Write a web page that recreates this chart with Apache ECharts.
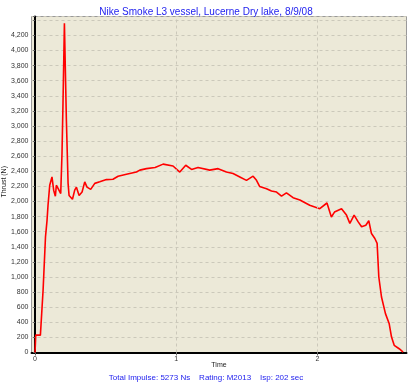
<!DOCTYPE html>
<html>
<head>
<meta charset="utf-8">
<script src="https://cdn.jsdelivr.net/npm/echarts@6/dist/echarts.min.js"></script>
<style>html,body{margin:0;padding:0;background:#fff}#c{width:412px;height:385px}</style>
</head>
<body>
<div id="c"></div>
<script>
var titleText = 'Nike Smoke L3 vessel, Lucerne Dry lake, 8/9/08';
var footerText = 'Total Impulse: 5273 Ns    Rating: M2013    Isp: 202 sec';
var xLabels = [0, 1, 2];
var timeS = [0, 0.005, 0.038, 0.057, 0.074, 0.085, 0.092, 0.104, 0.12, 0.132, 0.144, 0.151, 0.163, 0.182, 0.191, 0.198, 0.208, 0.222, 0.234, 0.241, 0.265, 0.281, 0.293, 0.312, 0.333, 0.352, 0.368, 0.394, 0.423, 0.458, 0.506, 0.552, 0.588, 0.647, 0.718, 0.742, 0.789, 0.85, 0.907, 0.977, 1.025, 1.067, 1.108, 1.154, 1.237, 1.296, 1.355, 1.402, 1.45, 1.497, 1.544, 1.568, 1.59, 1.639, 1.674, 1.71, 1.745, 1.78, 1.827, 1.875, 1.945, 2.016, 2.067, 2.098, 2.12, 2.17, 2.205, 2.229, 2.259, 2.288, 2.312, 2.342, 2.363, 2.382, 2.406, 2.422, 2.434, 2.453, 2.481, 2.507, 2.524, 2.543, 2.578, 2.606];
var thrustN = [0, 230, 230, 825, 1530, 1750, 1950, 2215, 2325, 2150, 2070, 2215, 2175, 2105, 2640, 3300, 4360, 3075, 2240, 2080, 2030, 2150, 2190, 2080, 2125, 2260, 2190, 2160, 2240, 2260, 2290, 2295, 2335, 2360, 2390, 2415, 2435, 2450, 2495, 2470, 2390, 2480, 2425, 2450, 2415, 2435, 2390, 2370, 2325, 2280, 2335, 2280, 2200, 2170, 2140, 2125, 2070, 2115, 2050, 2020, 1950, 1905, 1980, 1795, 1860, 1905, 1820, 1710, 1820, 1730, 1665, 1685, 1745, 1575, 1510, 1445, 1000, 735, 515, 385, 205, 95, 50, 5];

var pts = timeS.map(function (t, i) { return [t, thrustN[i]]; });
var chart = echarts.init(document.getElementById('c'), null, {renderer: 'canvas'});
var font = 'Liberation Sans, Arial, sans-serif';
chart.setOption({
  backgroundColor: '#ffffff',
  animation: false,
  title: {
    text: titleText, left: 'center', top: 2,
    textStyle: {color: '#2222EE', fontSize: 10, fontWeight: 'normal', fontFamily: font}
  },
  graphic: [{
    type: 'text', left: 'center', top: 374,
    style: {text: footerText, fill: '#2222EE', fontSize: 8, fontFamily: font}
  }, {
    type: 'text', left: 1, top: 166, rotation: Math.PI / 2,
    style: {text: 'Thrust (N)', fill: '#222', fontSize: 7, fontFamily: font}
  }],
  grid: {
    left: 31.5, top: 16.5, right: 5.5, bottom: 32.5,
    outerBoundsMode: 'none', containLabel: false,
    show: true, backgroundColor: '#ECE9D8', borderColor: '#999999', borderWidth: 1
  },
  xAxis: {
    type: 'value', min: -0.025, max: 2.63,
    name: 'Time', nameLocation: 'middle', nameGap: 9, nameMoveOverlap: false,
    nameTextStyle: {color: '#222', fontSize: 7, fontFamily: font},
    axisLine: {show: true, lineStyle: {color: '#000', width: 2}},
    axisTick: {show: true, length: 3, lineStyle: {color: '#666'}, customValues: xLabels},
    axisLabel: {color: '#333', fontSize: 7, fontFamily: font, margin: 3, customValues: xLabels},
    splitLine: {show: false}
  },
  yAxis: {
    type: 'value', min: 0, max: 4450, interval: 200,
    axisLine: {show: true, lineStyle: {color: '#000', width: 2}},
    axisTick: {show: true, length: 2, lineStyle: {color: '#666'}},
    axisLabel: {
      color: '#333', fontSize: 7, fontFamily: font, margin: 3,
      formatter: function (v) { return v >= 4400 ? '' : v.toLocaleString('en-US'); }
    },
    splitLine: {show: true, lineStyle: {color: '#CBC8BA', type: [3, 3], width: 1}}
  },
  series: [{
    type: 'line', data: pts, showSymbol: false, symbol: 'none',
    lineStyle: {color: '#FF0000', width: 1.6},
    markLine: {
      silent: true, symbol: 'none', label: {show: false},
      lineStyle: {color: '#CBC8BA', type: [3, 3], width: 1},
      data: [{xAxis: 1}, {xAxis: 2}]
    }
  }]
});
</script>
</body>
</html>
